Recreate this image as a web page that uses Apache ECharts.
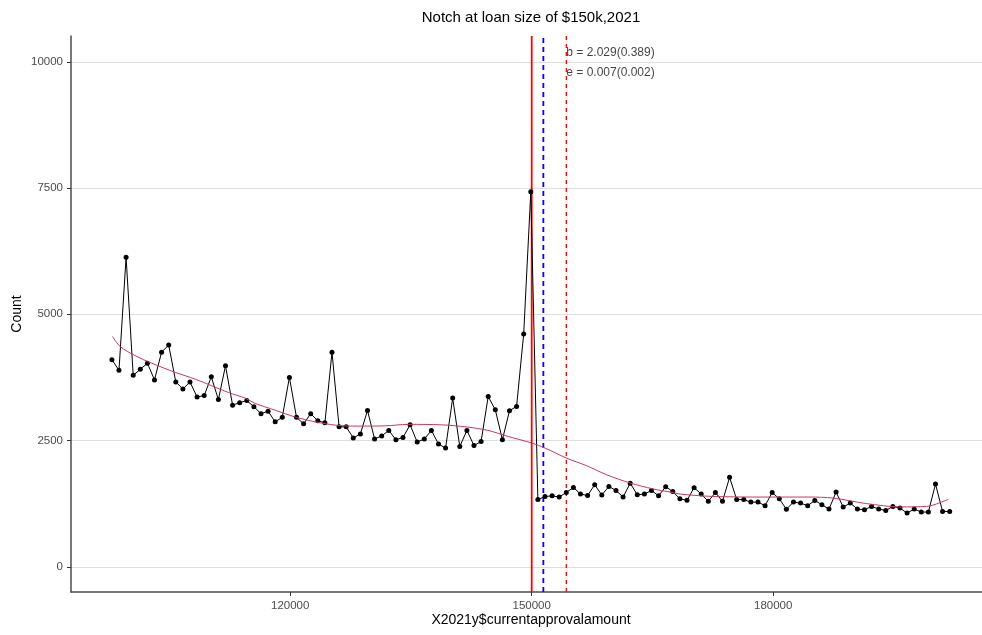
<!DOCTYPE html>
<html>
<head>
<meta charset="utf-8">
<title>Notch at loan size of $150k,2021</title>
<script src="https://cdn.jsdelivr.net/npm/echarts@6.0.0/dist/echarts.min.js"></script>
<style>
  html, body { margin: 0; padding: 0; background: #fff; }
  #main { width: 982px; height: 635px; }
</style>
</head>
<body>
<div id="main"></div>
<script>
// 每个点是一个贷款金额区间，从左到右等宽
const binStart = 97850;
const binWidth = 882;
const counts = [
  4100, 3890, 6130, 3790, 3910, 4030, 3700, 4250, 4390, 3660,
  3520, 3660, 3360, 3390, 3760, 3310, 3980, 3200, 3250, 3290,
  3170, 3030, 3080, 2870, 2960, 3750, 2960, 2830, 3030, 2890,
  2850, 4250, 2770, 2770, 2550, 2630, 3095, 2530, 2590, 2700,
  2515, 2560, 2810, 2470, 2530, 2700, 2430, 2350, 3340, 2380,
  2700, 2400, 2480, 3370, 3110, 2515, 3090, 3175, 4610, 7425,
  1330, 1390, 1405, 1380, 1470, 1570, 1440, 1410, 1625, 1420,
  1590, 1510, 1380, 1655, 1425, 1440, 1510, 1405, 1585, 1490,
  1345, 1315, 1565, 1440, 1295, 1470, 1295, 1770, 1330, 1330,
  1280, 1280, 1210, 1470, 1345, 1140, 1280, 1260, 1210, 1313,
  1228, 1142, 1479, 1182, 1261, 1142, 1129, 1194, 1142, 1115,
  1194, 1162, 1063, 1142, 1083, 1083, 1637, 1095, 1095,
];

// loess 拟合线
const smoothX = [
  97925, 98880, 100740, 102820, 105710, 108200, 112330, 114400, 115650, 118130,
  120620, 123100, 125580, 128070, 131790, 134650, 138830, 142100, 144580, 147070,
  150010, 151660, 154350, 156840, 159320, 162210, 165100, 167180, 168420, 172150,
  178360, 184570, 187430, 191620, 195750, 199070, 201750,
];
const smoothY = [
  4560, 4360, 4180, 4030, 3850, 3715, 3450, 3340, 3235, 3100,
  2965, 2870, 2805, 2785, 2790, 2820, 2810, 2765, 2700, 2580,
  2450, 2350, 2150, 2000, 1820, 1660, 1540, 1480, 1440, 1395,
  1380, 1380, 1360, 1250, 1185, 1195, 1335,
];

const xTicks = [120000, 150000, 180000];
const yTicks = [0, 2500, 5000, 7500, 10000];

const yMin = -500;
const yMax = 10510;

const notchX = 150000; // 红色实线
const blueDashX = 151450; // 蓝色虚线
const redDashX = 154300; // 红色虚线

const annoText = ["b = 2.029(0.389)", "e = 0.007(0.002)"];
const annoY = [10180, 9780];

const font = "Liberation Sans, Arial, sans-serif";

// 竖线：从面板底部画到顶部
function vline(x, color, type, width) {
  return {
    type: "line",
    silent: true,
    data: [
      [x, yMin],
      [x, yMax],
    ],
    showSymbol: false,
    symbol: "none",
    lineStyle: { color: color, type: type, width: width },
    itemStyle: { color: color },
    z: 2,
  };
}

const chart = echarts.init(document.getElementById("main"), null, { renderer: "canvas" });

const options = {
  animation: false,
  backgroundColor: "#fff",
  grid: {
    left: 71,
    right: 0,
    top: 36,
    bottom: 43,
    containLabel: false,
    outerBoundsMode: "none",
  },
  graphic: [
    {
      type: "text",
      x: 531,
      y: 10,
      style: {
        text: "Notch at loan size of $150k,2021",
        align: "center",
        fontSize: 15,
        fontFamily: font,
        fill: "#000",
      },
    },
    {
      type: "text",
      x: 531,
      y: 613,
      style: {
        text: "X2021y$currentapprovalamount",
        align: "center",
        fontSize: 14,
        fontFamily: font,
        fill: "#000",
      },
    },
  ],
  xAxis: {
    type: "value",
    min: 92770,
    max: 205940,
    axisLine: {
      onZero: false,
      lineStyle: { color: "#4d4d4d", width: 1.5 },
    },
    axisTick: {
      length: 4,
      customValues: xTicks,
      lineStyle: { color: "#333" },
    },
    axisLabel: {
      customValues: xTicks,
      margin: 8,
      color: "#4d4d4d",
      fontSize: 11.5,
      fontFamily: font,
      formatter: (v) => String(v),
    },
    splitLine: { show: false },
  },
  yAxis: {
    type: "value",
    min: yMin,
    max: yMax,
    name: "Count",
    nameLocation: "middle",
    nameGap: 47,
    nameMoveOverlap: false,
    nameTextStyle: { color: "#000", fontSize: 14, fontFamily: font },
    axisLine: {
      show: true,
      lineStyle: { color: "#4d4d4d", width: 1.5 },
    },
    axisTick: {
      show: true,
      length: 4,
      customValues: yTicks,
      lineStyle: { color: "#333" },
    },
    axisLabel: {
      customValues: yTicks,
      margin: 8,
      color: "#4d4d4d",
      fontSize: 11.5,
      fontFamily: font,
      formatter: (v) => String(v),
    },
    splitLine: {
      show: true,
      lineStyle: { color: "#dedede", width: 1 },
    },
  },
  series: [
    vline(notchX, "#ff0000", "solid", 1.8),
    vline(blueDashX, "#0000ff", [5, 4], 1.8),
    vline(redDashX, "#ff0000", [4, 4], 1.3),
    {
      name: "count",
      type: "line",
      data: counts.map((c, i) => [binStart + i * binWidth, c]),
      symbol: "circle",
      symbolSize: 5,
      showSymbol: true,
      lineStyle: { color: "#000", width: 1 },
      itemStyle: { color: "#000" },
      z: 3,
    },
    {
      name: "loess",
      type: "line",
      data: smoothX.map((x, i) => [x, smoothY[i]]),
      smooth: 0.3,
      showSymbol: false,
      lineStyle: { color: "#c8385e", width: 1 },
      z: 4,
    },
    {
      // 右上角的系数标注
      name: "anno",
      type: "scatter",
      silent: true,
      symbolSize: 0,
      data: annoText.map((t, i) => [redDashX, annoY[i]]),
      label: {
        show: true,
        position: "right",
        distance: 0,
        formatter: (p) => annoText[p.dataIndex],
        color: "#111",
        fontSize: 12,
        fontFamily: font,
      },
      z: 6,
    },
  ],
};

chart.setOption(options);
</script>
</body>
</html>
